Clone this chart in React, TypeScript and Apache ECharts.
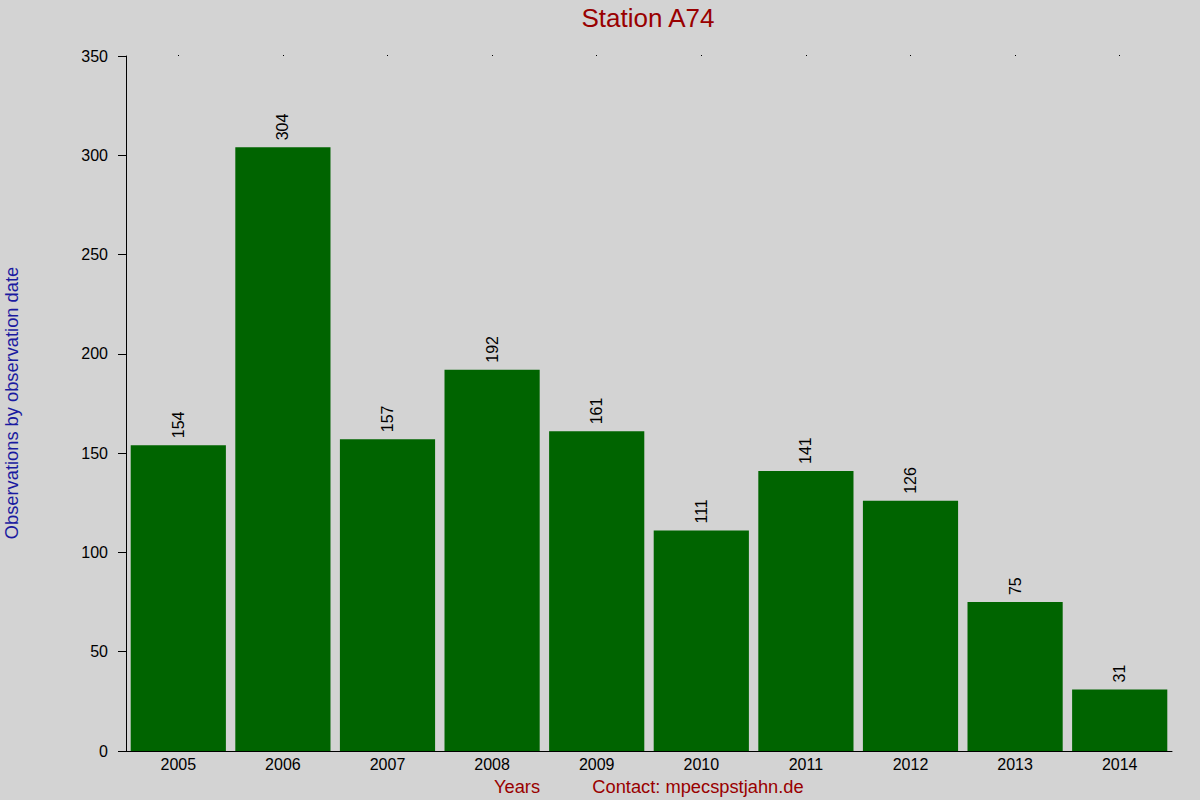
import { useEffect, useRef } from 'react';
import * as echarts from 'echarts';

const years = ['2005', '2006', '2007', '2008', '2009', '2010', '2011', '2012', '2013', '2014'];
const observations = [154, 304, 157, 192, 161, 111, 141, 126, 75, 31];

const titleText = 'Station A74';
const yAxisTitle = 'Observations by observation date';
const xAxisTitle = 'Years';
const contactText = 'Contact: mpecspstjahn.de';

const font = '"Liberation Sans", Arial, sans-serif';

export default function App() {
  const chartRef = useRef<HTMLDivElement>(null);

  useEffect(() => {
    if (!chartRef.current) return;
    const chart = echarts.init(chartRef.current, undefined, { renderer: 'svg' });

    chart.setOption({
      animation: false,
      backgroundColor: '#d3d3d3',
      textStyle: { fontFamily: font },
      grid: { left: 126, right: 28, top: 56, bottom: 49 },
      graphic: [
        {
          type: 'text',
          x: 648,
          y: 18,
          style: { text: titleText, fill: '#990000', font: `26px ${font}`, textAlign: 'center', textVerticalAlign: 'middle' },
        },
        {
          type: 'text',
          x: 11,
          y: 403,
          rotation: Math.PI / 2,
          style: { text: yAxisTitle, fill: '#1a1aa0', font: `18.3px ${font}`, textAlign: 'center', textVerticalAlign: 'middle' },
        },
        {
          type: 'text',
          x: 517,
          y: 786,
          style: { text: xAxisTitle, fill: '#990000', font: `18.3px ${font}`, textAlign: 'center', textVerticalAlign: 'middle' },
        },
        {
          type: 'text',
          x: 698,
          y: 786,
          style: { text: contactText, fill: '#990000', font: `18.3px ${font}`, textAlign: 'center', textVerticalAlign: 'middle' },
        },
      ],
      xAxis: [
        {
          type: 'category',
          data: years,
          position: 'bottom',
          axisLine: { show: true, lineStyle: { color: '#000', width: 1 } },
          axisTick: { show: false },
          axisLabel: { color: '#000', fontSize: 16, margin: 5 },
        },
        {
          type: 'category',
          data: years,
          position: 'top',
          axisLine: { show: false },
          axisTick: { show: true, alignWithLabel: true, length: 1, lineStyle: { color: '#000' } },
          axisLabel: { show: false },
        },
      ],
      yAxis: {
        type: 'value',
        min: 0,
        max: 350,
        interval: 50,
        axisLine: { show: true, lineStyle: { color: '#000', width: 1 } },
        axisTick: { show: true, length: 8, lineStyle: { color: '#000' } },
        axisLabel: { color: '#000', fontSize: 16, margin: 18 },
        splitLine: { show: false },
      },
      series: [
        {
          type: 'bar',
          data: observations,
          barCategoryGap: '9%',
          itemStyle: { color: '#006400' },
          label: {
            show: true,
            position: 'top',
            rotate: 90,
            align: 'left',
            verticalAlign: 'middle',
            distance: 7,
            color: '#000',
            fontSize: 16,
          },
        },
      ],
    });

    return () => chart.dispose();
  }, []);

  return (
    <div
      ref={chartRef}
      style={{ position: 'absolute', left: 0, top: 0, width: 1200, height: 800 }}
    />
  );
}
